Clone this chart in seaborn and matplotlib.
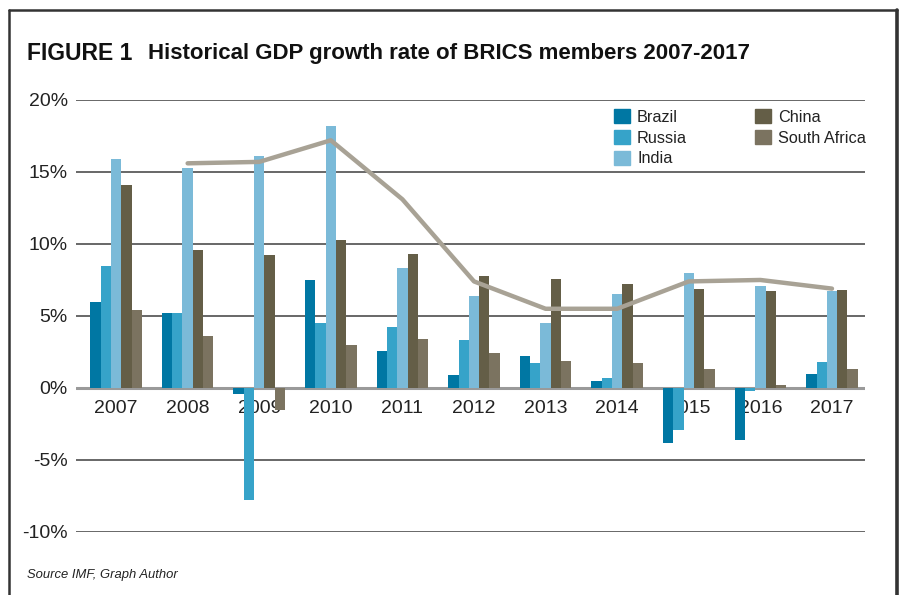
import numpy as np
import pandas as pd
import matplotlib
matplotlib.use("Agg")
import matplotlib.pyplot as plt
from matplotlib.patches import Rectangle
import seaborn as sns

years = ["2007", "2008", "2009", "2010", "2011", "2012", "2013", "2014", "2015", "2016", "2017"]
brazil = [6.0, 5.2, -0.4, 7.5, 2.6, 0.9, 2.2, 0.5, -3.8, -3.6, 1.0]
russia = [8.5, 5.2, -7.8, 4.5, 4.2, 3.3, 1.7, 0.7, -2.9, -0.2, 1.8]
india = [15.9, 15.3, 16.1, 18.2, 8.3, 6.4, 4.5, 6.5, 8.0, 7.1, 6.7]
china = [14.1, 9.6, 9.2, 10.3, 9.3, 7.8, 7.6, 7.2, 6.9, 6.7, 6.8]
south_africa = [5.4, 3.6, -1.5, 3.0, 3.4, 2.4, 1.9, 1.7, 1.3, 0.2, 1.3]
countries = ["Brazil", "Russia", "India", "China", "South Africa"]
line_years = ["2008", "2009", "2010", "2011", "2012", "2013", "2014", "2015", "2016", "2017"]
line_values = [15.6, 15.7, 17.2, 13.1, 7.4, 5.5, 5.5, 7.4, 7.5, 6.9]
yticks = [-10, -5, 0, 5, 10, 15, 20]

colors = ["#0077a3", "#36a3c9", "#7bbad8", "#645e47", "#7b7360"]

sns.set_theme(style="white")
plt.rcParams["font.family"] = ["Liberation Sans", "DejaVu Sans"]

rows = []
for c, vals in zip(countries, [brazil, russia, india, china, south_africa]):
    for y, v in zip(years, vals):
        rows.append({"year": y, "country": c, "value": v})
df = pd.DataFrame(rows)

fig = plt.figure(figsize=(9, 5.95), dpi=100)
ax = fig.add_axes([0.0844, 0.1059, 0.961 - 0.0844, 0.832 - 0.1059])

for t in yticks:
    ax.axhline(t, color="#5c5c5c" if t != 0 else "#9a9a9a", lw=1.3 if t != 0 else 2.2, zorder=0)

sns.barplot(data=df, x="year", y="value", hue="country", order=years, hue_order=countries,
            palette=colors, width=0.72, gap=0, saturation=1, ax=ax, zorder=2, linewidth=0)

xs = [years.index(y) for y in line_years]
sns.lineplot(x=xs, y=line_values, color="#a8a295", lw=3.2, ax=ax, zorder=3)

ax.set_xlim(-0.56, 10.46)
ax.set_ylim(-10, 20)
ax.set_yticks(yticks)
ax.set_yticklabels([f"{t}%" for t in yticks], fontsize=14, color="#222222")
ax.set_xticks(range(len(years)))
ax.set_xticklabels([])
ax.tick_params(axis="x", length=0)
ax.tick_params(axis="y", length=0, pad=6)
ax.set_xlabel("")
ax.set_ylabel("")
for s in ax.spines.values():
    s.set_visible(False)
ax.grid(False)

# year labels sit just under the zero line, as in the reference
for i, y in enumerate(years):
    ax.text(i, -0.8, y, ha="center", va="top", fontsize=14, color="#222222", zorder=1)

handles = [Rectangle((0, 0), 1, 1, color=c) for c in colors]
leg = ax.legend(handles, countries, ncol=2, loc="upper left", bbox_to_anchor=(0.668, 1.005),
                frameon=False, fontsize=11.7, handlelength=0.95, handleheight=0.95,
                handletextpad=0.45, labelspacing=0.32, columnspacing=4.2, borderaxespad=0.3)
for t in leg.get_texts():
    t.set_color("#222222")

fig.text(27 / 900, 1 - 53 / 595, "FIGURE 1", fontsize=16.5, fontweight="bold", va="center", ha="left", color="#111111")
fig.text(148 / 900, 1 - 53 / 595, "Historical GDP growth rate of BRICS members 2007-2017",
         fontsize=16, fontweight="bold", va="center", ha="left", color="#111111")
fig.text(27 / 900, 1 - 575 / 595, "Source IMF, Graph Author", fontsize=9.4, style="italic",
         va="center", ha="left", color="#222222")

# frame
fig.add_artist(plt.Line2D([9 / 900, 897 / 900], [1 - 10 / 595, 1 - 10 / 595], color="#333333", lw=1.8, transform=fig.transFigure))
fig.add_artist(plt.Line2D([9 / 900, 9 / 900], [0, 1 - 10 / 595], color="#333333", lw=1.8, transform=fig.transFigure))
fig.add_artist(plt.Line2D([897 / 900, 897 / 900], [0, 1 - 10 / 595], color="#333333", lw=2.6, transform=fig.transFigure))

fig.savefig("out.png", dpi=100)
